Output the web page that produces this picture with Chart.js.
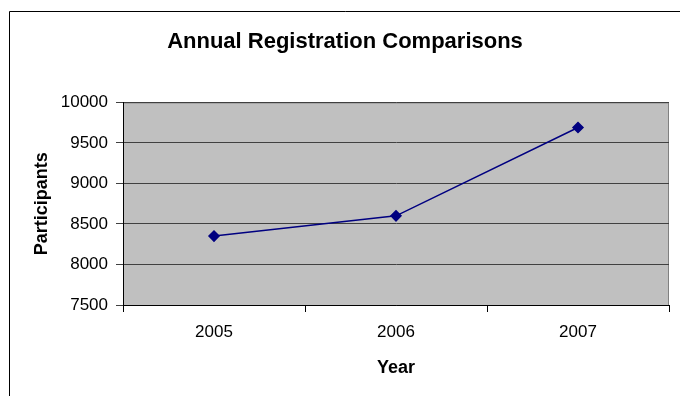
<!DOCTYPE html>
<html>
<head>
<meta charset="UTF-8" />
<title>Annual Registration Comparisons</title>
<script src="https://cdn.jsdelivr.net/npm/chart.js"></script>
<style>
  html, body { margin: 0; padding: 0; background: #fff; overflow: hidden; }
  #wrap { width: 680px; height: 396px; position: relative; }
</style>
</head>
<body>
<div id="wrap"><canvas id="chart" width="680" height="396"></canvas></div>
<script>
const years = ["2005", "2006", "2007"];
const participants = [8350, 8600, 9690];
const yMin = 7500;
const yMax = 10000;
const yStep = 500;

const FONT = "Arial, 'Liberation Sans', sans-serif";

// gray plot area, its border and the outer frame of the chart
const frame = {
  id: "frame",
  beforeDraw(chart) {
    const c = chart.ctx, a = chart.chartArea;
    c.save();
    c.fillStyle = "#c0c0c0";
    c.fillRect(a.left, a.top, a.right - a.left, a.bottom - a.top);
    c.strokeStyle = "#808080";
    c.lineWidth = 1;
    c.strokeRect(a.left + 0.5, a.top + 0.5, a.right - a.left - 1, a.bottom - a.top);
    c.strokeStyle = "#000";
    c.beginPath();
    c.moveTo(9.5, 400);
    c.lineTo(9.5, 11.5);
    c.lineTo(700, 11.5);
    c.stroke();
    c.restore();
  }
};

new Chart(document.getElementById("chart"), {
  type: "line",
  data: {
    labels: years,
    datasets: [{
      data: participants,
      borderColor: "#000080",
      backgroundColor: "#000080",
      borderWidth: 1.5,
      pointStyle: "rectRot",
      pointRadius: 5,
      pointHoverRadius: 5,
      tension: 0
    }]
  },
  options: {
    responsive: false,
    animation: false,
    layout: { padding: { left: 21, right: 11, top: 0, bottom: 0 } },
    plugins: {
      legend: { display: false },
      tooltip: { enabled: false },
      title: {
        display: true,
        text: "Annual Registration Comparisons",
        color: "#000",
        font: { family: FONT, size: 22, weight: "bold" },
        padding: { top: 29, bottom: 47 }
      }
    },
    scales: {
      x: {
        offset: true,
        grid: { offset: true, drawOnChartArea: false, drawTicks: true, tickLength: 7, color: "#000" },
        border: { color: "#000", width: 1 },
        ticks: { color: "#000", font: { family: FONT, size: 17 }, padding: 10 },
        title: { display: true, text: "Year", color: "#000", font: { family: FONT, size: 18, weight: "bold" }, padding: { top: 4, bottom: 17 } },
        afterFit(s) { s.height = 91; }
      },
      y: {
        min: yMin,
        max: yMax,
        ticks: { stepSize: yStep, color: "#000", font: { family: FONT, size: 17 }, padding: 8, callback: v => String(v) },
        grid: { color: "#404040", tickLength: 7, drawTicks: true },
        border: { color: "#000", width: 1 },
        title: { display: true, text: "Participants", color: "#000", font: { family: FONT, size: 18, weight: "bold" }, padding: { top: 10, bottom: 4 } },
        afterFit(s) { s.width = 102; }
      }
    }
  },
  plugins: [frame]
});
</script>
</body>
</html>
